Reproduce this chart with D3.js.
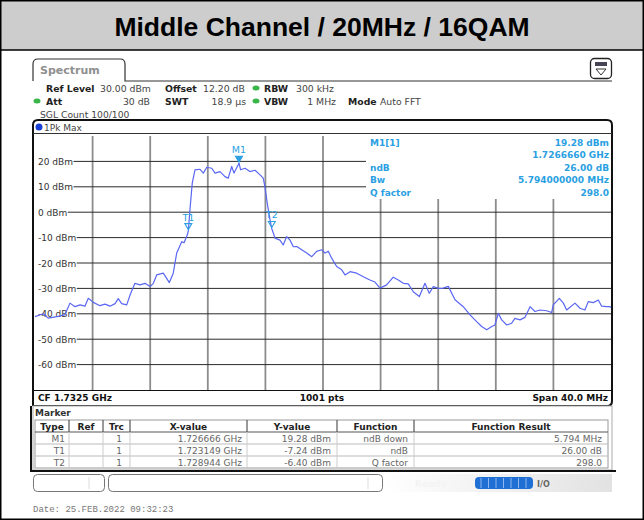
<!DOCTYPE html>
<html><head><meta charset="utf-8">
<script src="https://cdn.jsdelivr.net/npm/d3@7/dist/d3.min.js"></script>
<style>body{margin:0;background:#fff}svg{display:block}</style>
</head><body><svg id="c" width="644" height="520"></svg>
<script>
// ---------- data ----------
const title = "Middle Channel / 20MHz / 16QAM";
const freqMHz = [1712.50,1713.08,1713.42,1714.12,1714.58,1714.93,1715.28,1715.63,1715.97,1716.20,1716.55,1717.01,1717.36,1717.71,1718.06,1718.28,1718.52,1718.87,1719.10,1719.44,1719.79,1720.14,1720.49,1720.72,1720.95,1721.41,1721.83,1722.10,1722.34,1722.69,1722.85,1723.08,1723.15,1723.26,1723.42,1723.61,1723.96,1724.19,1724.43,1724.77,1725.00,1725.35,1725.69,1725.92,1726.16,1726.32,1726.67,1726.78,1727.08,1727.43,1727.78,1728.13,1728.35,1728.47,1728.63,1728.82,1728.94,1729.17,1729.51,1729.74,1729.98,1730.21,1730.44,1730.68,1731.02,1731.37,1731.72,1732.06,1732.41,1732.64,1732.87,1733.10,1733.45,1733.80,1734.03,1734.38,1734.84,1735.30,1735.76,1736.11,1736.46,1736.92,1737.38,1737.73,1738.08,1738.42,1738.77,1739.19,1739.58,1739.88,1740.16,1740.51,1740.85,1741.20,1741.67,1742.24,1742.71,1743.17,1743.52,1743.87,1744.22,1744.44,1744.67,1744.91,1745.26,1745.60,1745.83,1746.18,1746.53,1746.88,1747.22,1747.57,1748.03,1748.38,1748.49,1748.91,1749.19,1749.42,1750.00,1750.35,1750.69,1750.92,1751.27,1751.62,1751.85,1752.20,1752.43,1752.50];
const levelDbm = [-41.1,-40.0,-41.7,-41.0,-40.3,-35.8,-37.2,-36.5,-37.0,-33.9,-35.5,-36.8,-36.2,-37.0,-36.0,-34.0,-36.0,-36.5,-32.6,-28.0,-28.6,-28.0,-29.3,-28.0,-24.7,-24.0,-27.7,-24.0,-16.1,-11.6,-12.0,-8.9,-7.24,0.9,11.4,16.7,16.9,15.4,17.7,17.3,15.4,16.0,14.0,13.4,18.0,15.4,19.28,16.7,17.3,16.0,16.5,14.7,13.4,10.0,3.5,-3.0,-6.4,-10.2,-11.0,-12.9,-9.6,-11.0,-13.6,-13.5,-14.8,-16.1,-17.5,-15.4,-14.8,-16.1,-15.4,-18.1,-21.4,-22.7,-24.7,-23.4,-24.0,-25.4,-26.7,-27.5,-29.9,-28.6,-25.6,-26.7,-28.0,-28.2,-31.3,-33.2,-28.0,-31.9,-29.3,-30.0,-29.9,-29.2,-34.5,-37.2,-40.4,-43.1,-45.0,-46.3,-45.0,-44.4,-39.8,-42.4,-44.4,-43.7,-41.8,-42.4,-41.4,-37.2,-39.1,-38.5,-38.8,-39.5,-36.5,-33.9,-35.8,-38.5,-35.8,-37.8,-38.5,-35.2,-35.6,-34.6,-37.0,-37.2,-37.2,-37.5];
const yTicks = [20,10,0,-10,-20,-30,-40,-50,-60];
const freqDomain = [1712.5,1752.5];
const levelDomain = [-70,30];
const markerNames = ["M1","T1","T2"];
const markerFreq = [1726.666,1723.149,1728.944];
const markerLevel = [19.28,-7.24,-6.40];
const infoLabels = ["M1[1]","","ndB","Bw","Q factor"];
const infoValues = ["19.28 dBm","1.7266660 GHz","26.00 dB","5.794000000 MHz","298.0"];
const tableHeader = ["Type","Ref","Trc","X-value","Y-value","Function","Function Result"];
const tableRows = [
  ["M1","","1","1.726666 GHz","19.28 dBm","ndB down","5.794 MHz"],
  ["T1","","1","1.723149 GHz","-7.24 dBm","ndB","26.00 dB"],
  ["T2","","1","1.728944 GHz","-6.40 dBm","Q factor","298.0"]
];

// ---------- drawing ----------
const svg = d3.select("#c");
const F = "DejaVu Sans, Verdana, sans-serif";
const markerColor = "#2a9fe2";
const traceColor = "#5a67f2";

// outer frame + title
svg.append("rect").attr("x",0).attr("y",0).attr("width",644).attr("height",50).attr("fill","#cdcdcd");
svg.append("rect").attr("x",0.75).attr("y",0.75).attr("width",642.5).attr("height",518.5).attr("fill","none").attr("stroke","#000").attr("stroke-width",1.5);
svg.append("line").attr("x1",0).attr("x2",644).attr("y1",50).attr("y2",50).attr("stroke","#000").attr("stroke-width",1.5);
svg.append("text").attr("x",322).attr("y",36).attr("text-anchor","middle")
  .attr("font-family","Liberation Sans, Arial, sans-serif").attr("font-weight","bold").attr("font-size",26.5).attr("fill","#000").text(title);

// Spectrum tab
svg.append("path").attr("d","M33,81 L33,64 Q33,59 38,59 L120,59 Q125,59 125,64 L125,81 L612,81")
  .attr("fill","none").attr("stroke","#333").attr("stroke-width",1.2);
svg.append("text").attr("x",40).attr("y",74).attr("font-family",F).attr("font-size",11).attr("font-weight","bold").attr("fill","#8f8f8f").text("Spectrum");
// icon
svg.append("rect").attr("x",590.5).attr("y",58.5).attr("width",21).attr("height",20).attr("rx",4).attr("fill","#fff").attr("stroke","#222").attr("stroke-width",1.3);
svg.append("rect").attr("x",595).attr("y",62).attr("width",12).attr("height",4).attr("fill","#445");
svg.append("path").attr("d","M596,69 L606,69 L601,75 Z").attr("fill","none").attr("stroke","#333").attr("stroke-width",1);

// settings rows
function t(x,y,s,bold,anchor,color,size){
  return svg.append("text").attr("x",x).attr("y",y).attr("font-family",F).attr("font-size",size||9)
    .attr("font-weight",bold?"bold":"normal").attr("text-anchor",anchor||"start").attr("fill",color||"#222").text(s);
}
function dot(x,y){svg.append("ellipse").attr("cx",x).attr("cy",y).attr("rx",3.5).attr("ry",2.5).attr("fill","#39b54a");}
const S = 9.3;
t(46,91.5,"Ref Level",true,"start","#222",S); t(100,91.5,"30.00 dBm",false,"start","#444",S);
t(165,91.5,"Offset",true,"start","#222",S); t(203,91.5,"12.20 dB",false,"start","#444",S);
dot(256,88); t(264,91.5,"RBW",true,"start","#222",S); t(296,91.5,"300 kHz",false,"start","#444",S);
dot(37,101); t(46,104.5,"Att",true,"start","#222",S); t(150,104.5,"30 dB",false,"end","#444",S);
t(165,104.5,"SWT",true,"start","#222",S); t(246,104.5,"18.9 µs",false,"end","#444",S);
dot(256,101); t(264,104.5,"VBW",true,"start","#222",S); t(336,104.5,"1 MHz",false,"end","#444",S);
t(348,104.5,"Mode",true,"start","#222",S); t(380,104.5,"Auto FFT",false,"start","#444",S);
t(40,117.5,"SGL Count 100/100",false,"start","#444",9.2);

// plot panel
const L=35,R=611,T=136,B=390;
svg.append("path").attr("d","M33,406 L33,125 Q33,120 38,120 L607,120 Q612,120 612,125 L612,401 Q612,406 607,406 L33,406")
  .attr("fill","#fff").attr("stroke","#111").attr("stroke-width",2);
svg.append("line").attr("x1",33).attr("x2",612).attr("y1",133.5).attr("y2",133.5).attr("stroke","#333").attr("stroke-width",1);
svg.append("circle").attr("cx",39).attr("cy",127).attr("r",3.5).attr("fill","#1a3fd6");
t(44,130.5,"1Pk Max",false,"start","#444");

const x = d3.scaleLinear().domain(freqDomain).range([L,R]);
const y = d3.scaleLinear().domain(levelDomain).range([B,T]);

// vertical grid
const xGrid = d3.range(1,10).map(k=>freqDomain[0]+k*(freqDomain[1]-freqDomain[0])/10);
svg.append("g").selectAll("line").data(xGrid).join("line")
  .attr("x1",d=>x(d)).attr("x2",d=>x(d)).attr("y1",T).attr("y2",B)
  .attr("stroke","#8c8c8c").attr("stroke-width",1.8);
// horizontal grid
svg.append("g").selectAll("line").data(yTicks).join("line")
  .attr("x1",L).attr("x2",R).attr("y1",d=>y(d)).attr("y2",d=>y(d))
  .attr("stroke","#2a2a2a").attr("stroke-width",1);
svg.append("line").attr("x1",33).attr("x2",612).attr("y1",B+0.5).attr("y2",B+0.5).attr("stroke","#111").attr("stroke-width",1.2);

// y labels with white mask
const yl = svg.append("g");
yTicks.forEach(v=>{
  const tx = yl.append("text").attr("x",38).attr("y",y(v)+3.5).attr("font-family",F).attr("font-size",9).attr("fill","#333").text(v+" dBm");
  const bb = tx.node().getBBox();
  yl.insert("rect","text").attr("x",L).attr("y",bb.y).attr("width",bb.x+bb.width-L+0.5).attr("height",bb.height).attr("fill","#fff");
});

// info box
svg.append("rect").attr("x",366).attr("y",T).attr("width",R-366).attr("height",63).attr("fill","#fff");
infoLabels.forEach((s,i)=>{
  if(s) t(370,146+i*12.4,s,true,"start",markerColor);
  t(609,146+i*12.4,infoValues[i],true,"end",markerColor);
});

// trace
const pts = freqMHz.map((f,i)=>[f,levelDbm[i]]);
svg.append("path").datum(pts).attr("fill","none").attr("stroke",traceColor).attr("stroke-width",1.2)
  .attr("stroke-linejoin","round")
  .attr("d",d3.line().x(d=>x(d[0])).y(d=>y(d[1])));

// markers
markerNames.forEach((n,i)=>{
  const mx=x(markerFreq[i]), my=y(markerLevel[i]);
  const filled = i===0;
  svg.append("path").attr("d",`M${mx-3.5},${my-7} L${mx+3.5},${my-7} L${mx},${my-1} Z`)
    .attr("fill",filled?markerColor:"none").attr("stroke",markerColor).attr("stroke-width",1.1);
  t(mx,my-10,n,false,"middle",markerColor,9.5);
});

// bottom bar of plot
t(38,401,"CF 1.7325 GHz",true,"start","#111");
t(322,401,"1001 pts",true,"middle","#111");
t(608,401,"Span 40.0 MHz",true,"end","#111");

// marker table panel
svg.append("rect").attr("x",33).attr("y",406).attr("width",579).attr("height",64).attr("fill","#fff").attr("stroke","#aaa").attr("stroke-width",1);
svg.append("line").attr("x1",30).attr("x2",616).attr("y1",471).attr("y2",471).attr("stroke","#111").attr("stroke-width",2);
svg.append("line").attr("x1",31).attr("x2",31).attr("y1",406).attr("y2",471).attr("stroke","#111").attr("stroke-width",2);
t(35,416,"Marker",true,"start","#333");
const colEdges = [35,69,103,130,247,337,414,608];
const rowTop = 420, rowH = 12;
svg.append("rect").attr("x",35).attr("y",rowTop).attr("width",573).attr("height",rowH*4).attr("fill","#fff").attr("stroke","#999");
for(let r=1;r<=3;r++) svg.append("line").attr("x1",35).attr("x2",608).attr("y1",rowTop+r*rowH).attr("y2",rowTop+r*rowH).attr("stroke",r===1?"#555":"#bbb");
colEdges.slice(1,-1).forEach(cx=>{
  svg.append("line").attr("x1",cx).attr("x2",cx).attr("y1",rowTop).attr("y2",rowTop+rowH).attr("stroke","#555").attr("stroke-width",1.2);
  svg.append("line").attr("x1",cx).attr("x2",cx).attr("y1",rowTop+rowH).attr("y2",rowTop+rowH*4).attr("stroke","#ccc");
});
tableHeader.forEach((h,j)=>t((colEdges[j]+colEdges[j+1])/2,rowTop+9.5,h,true,"middle","#222"));
const padR = [4,4,8,5,6,6,6];
tableRows.forEach((row,i)=>row.forEach((c,j)=>{
  if(c) t(colEdges[j+1]-padR[j],rowTop+rowH*(i+1)+9.5,c,false,"end","#666");
}));

// status bar
const grad = svg.append("defs").append("linearGradient").attr("id","g1");
grad.append("stop").attr("offset","0%").attr("stop-color","#ffffff");
grad.append("stop").attr("offset","100%").attr("stop-color","#e2e2e2");
svg.append("rect").attr("x",384).attr("y",474).attr("width",228).attr("height",18).attr("fill","url(#g1)");
svg.append("rect").attr("x",33.5).attr("y",474.5).attr("width",71).attr("height",17).attr("rx",4).attr("fill","#fff").attr("stroke","#777");
svg.append("line").attr("x1",89).attr("x2",89).attr("y1",477).attr("y2",489).attr("stroke","#ddd");
svg.append("rect").attr("x",108.5).attr("y",474.5).attr("width",274).attr("height",17).attr("rx",4).attr("fill","#fff").attr("stroke","#777");
svg.append("line").attr("x1",368).attr("x2",368).attr("y1",477).attr("y2",489).attr("stroke","#ddd");
t(415,487,"Ready",true,"start","#f4f4f4");
svg.append("rect").attr("x",475).attr("y",477).attr("width",58).attr("height",12).attr("rx",4).attr("fill","#1f6fd4");
d3.range(7).forEach(k=>svg.append("line").attr("x1",481+k*7.5).attr("x2",481+k*7.5).attr("y1",478).attr("y2",488).attr("stroke","#8fb8ee").attr("stroke-width",1));
t(537,487,"I/O",true,"start","#666",8);

// date
svg.append("text").attr("x",33).attr("y",512).attr("font-family","Liberation Mono, Courier New, monospace").attr("font-size",9).attr("fill","#777").text("Date: 25.FEB.2022  09:32:23");
</script>
</body></html>
